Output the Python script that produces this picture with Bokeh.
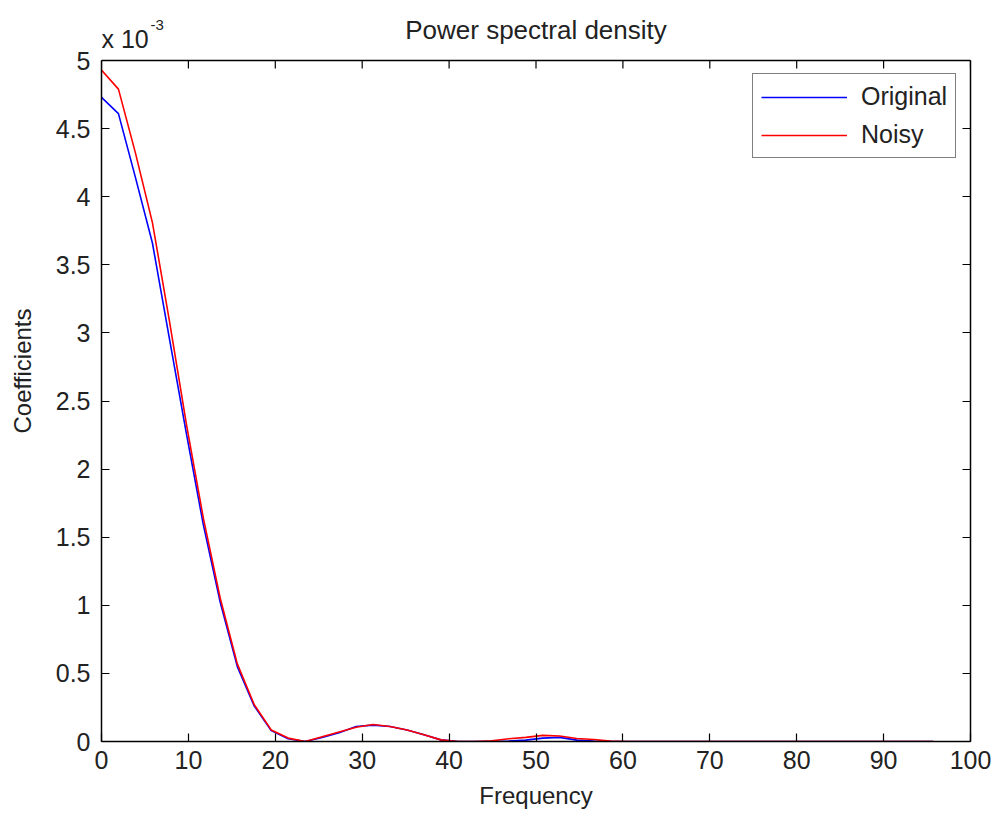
from bokeh.plotting import figure
from bokeh.models import (Range1d, FixedTicker, LinearAxis, NumeralTickFormatter,
                          CustomJSTickFormatter, Label, Legend, LegendItem, Span)
from bokeh.embed import file_html
from bokeh.resources import INLINE

# ---------------- data (coefficients in units of 1e-3) ----------------
frequency = [0.00, 1.95, 3.91, 5.86, 7.81, 9.77, 11.72, 13.67, 15.63, 17.58,
             19.53, 21.48, 23.44, 25.39, 27.34, 29.30, 31.25, 33.20, 35.16, 37.11,
             39.06, 41.02, 42.97, 44.92, 46.88, 48.83, 50.78, 52.73, 54.69, 56.64,
             58.59, 60.55, 62.50, 64.45, 66.41, 68.36, 70.31, 72.27, 74.22, 76.17,
             78.13, 80.08, 82.03, 83.98, 85.94, 87.89, 89.84, 91.80, 93.75, 95.70]

original = [4.73, 4.61, 4.14, 3.66, 2.96, 2.26, 1.59, 1.02, 0.55, 0.26,
            0.08, 0.02, 0.00, 0.03, 0.065, 0.11, 0.12, 0.11, 0.085, 0.05,
            0.012, 0.0, 0.0, 0.0, 0.003, 0.01, 0.025, 0.03, 0.01, 0.003,
            0.0, 0.0, 0.0, 0.0, 0.0, 0.0, 0.0, 0.0, 0.0, 0.0,
            0.0, 0.0, 0.0, 0.0, 0.0, 0.0, 0.0, 0.0, 0.0, 0.0]

noisy = [4.93, 4.79, 4.32, 3.81, 3.09, 2.33, 1.64, 1.05, 0.57, 0.27,
         0.085, 0.025, 0.00, 0.035, 0.07, 0.105, 0.125, 0.11, 0.085, 0.05,
         0.012, 0.0, 0.0, 0.005, 0.02, 0.03, 0.045, 0.04, 0.022, 0.015,
         0.003, 0.0, 0.0, 0.0, 0.0, 0.0, 0.0, 0.0, 0.0, 0.0,
         0.0, 0.0, 0.0, 0.0, 0.0, 0.0, 0.0, 0.0, 0.0, 0.0]

x_ticks = [0, 10, 20, 30, 40, 50, 60, 70, 80, 90, 100]
y_ticks = [0, 0.5, 1, 1.5, 2, 2.5, 3, 3.5, 4, 4.5, 5]

title_text = "Power spectral density"
x_label = "Frequency"
y_label = "Coefficients"
series_names = ["Original", "Noisy"]
series_colors = ["#0000ff", "#ff0000"]
exponent_base = "x 10"
exponent_power = "-3"

X_MIN, X_MAX = 0, 100
Y_MIN, Y_MAX = 0, 5

TEXT = "#222222"
FONT = "Liberation Sans"
W, H = 994, 816
# pixel geometry of the axes box inside the canvas
BOX_LEFT, BOX_RIGHT, BOX_TOP, BOX_BOTTOM = 101, 970, 60, 741
# the plotting frame reaches the top edge of the canvas so that the title and
# the exponent above the box can live inside it; the box itself ends at Y_MAX
y_frame_end = Y_MIN + (Y_MAX - Y_MIN) * BOX_BOTTOM / (BOX_BOTTOM - BOX_TOP)

p = figure(width=W, height=H, output_backend="svg", toolbar_location=None,
           x_range=Range1d(X_MIN, X_MAX), y_range=Range1d(Y_MIN, y_frame_end),
           min_border_left=BOX_LEFT, min_border_right=W - BOX_RIGHT,
           min_border_top=0, min_border_bottom=H - BOX_BOTTOM,
           background_fill_color="white", border_fill_color="white")
p.grid.visible = False
p.outline_line_color = None

def style_axis(ax, ticks, labeled):
    ax.ticker = FixedTicker(ticks=ticks)
    ax.major_tick_in = 8
    ax.major_tick_out = 0
    ax.minor_tick_line_color = None
    ax.major_tick_line_color = "black"
    ax.major_tick_line_width = 1.2
    ax.axis_line_color = "black"
    ax.axis_line_width = 1.5
    ax.major_label_text_font = FONT
    ax.major_label_text_font_size = "25px"
    ax.major_label_text_color = TEXT
    if not labeled:
        ax.formatter = CustomJSTickFormatter(code="return ''")
        ax.major_label_standoff = 0

xa = p.xaxis[0]
style_axis(xa, x_ticks, True)
xa.major_label_standoff = 9
xa.axis_label = x_label
xa.axis_label_standoff = 10
xa.axis_label_text_font = FONT
xa.axis_label_text_font_size = "24px"
xa.axis_label_text_font_style = "normal"
xa.axis_label_text_color = TEXT

ya = p.yaxis[0]
style_axis(ya, y_ticks, True)
ya.bounds = (Y_MIN, Y_MAX)
ya.formatter = NumeralTickFormatter(format="0.[0]")
ya.major_label_standoff = 11
ya.axis_label = y_label
ya.axis_label_standoff = 17
ya.axis_label_text_font = FONT
ya.axis_label_text_font_size = "24px"
ya.axis_label_text_font_style = "normal"
ya.axis_label_text_color = TEXT

right_ax = LinearAxis(bounds=(Y_MIN, Y_MAX))
style_axis(right_ax, y_ticks, False)
p.add_layout(right_ax, "right")

# top side of the axes box with its inward ticks
p.add_layout(Span(location=Y_MAX, dimension="width", line_color="black",
                  line_width=1.5))
p.ray(x=x_ticks, y=[Y_MAX] * len(x_ticks), length=8, length_units="screen",
      angle=-90, angle_units="deg", line_color="black", line_width=1.2)

r1 = p.line(frequency, original, line_color=series_colors[0], line_width=1.6)
r2 = p.line(frequency, noisy, line_color=series_colors[1], line_width=1.6)

legend = Legend(items=[LegendItem(label=series_names[0], renderers=[r1]),
                       LegendItem(label=series_names[1], renderers=[r2])],
                location=(752 - BOX_LEFT, BOX_BOTTOM - 158), margin=0,
                padding=8, spacing=9,
                glyph_width=86, glyph_height=28, label_height=28,
                label_standoff=14, label_text_font=FONT,
                label_text_font_size="25px", label_text_color=TEXT,
                border_line_color="black", border_line_width=1.2,
                background_fill_color="white", background_fill_alpha=1.0)
p.add_layout(legend)

# title and the exponent of the y axis, placed above the top of the box
p.add_layout(Label(x=(X_MIN + X_MAX) / 2, y=Y_MAX, text=title_text, y_offset=31,
                   text_font=FONT, text_font_size="26px", text_color=TEXT,
                   text_align="center", text_baseline="alphabetic"))
p.add_layout(Label(x=X_MIN, y=Y_MAX, text=exponent_base, x_offset=0, y_offset=22,
                   text_font=FONT, text_font_size="25px", text_color=TEXT,
                   text_align="left", text_baseline="alphabetic"))
p.add_layout(Label(x=X_MIN, y=Y_MAX, text=exponent_power, x_offset=49, y_offset=36,
                   text_font=FONT, text_font_size="15px", text_color=TEXT,
                   text_align="left", text_baseline="alphabetic"))

open("out.html", "w").write(file_html(p, INLINE))
